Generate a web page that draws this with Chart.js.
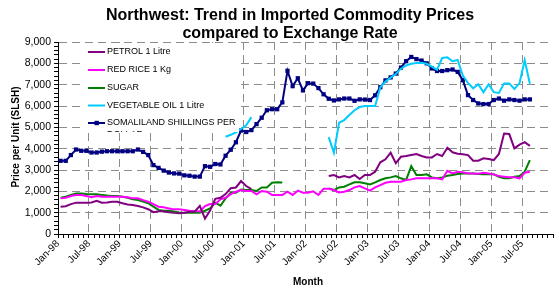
<!DOCTYPE html>
<html>
<head>
<meta charset="utf-8">
<script src="https://cdn.jsdelivr.net/npm/chart.js@4"></script>
<style>
  body { margin: 0; background: #fff; }
  canvas { display: block; }
</style>
</head>
<body>
<canvas id="chart" width="559" height="289"></canvas>
<script>
// months Jan-98 .. Dec-05
const monthNames = ["Jan", "Feb", "Mar", "Apr", "May", "Jun", "Jul", "Aug", "Sep", "Oct", "Nov", "Dec"];
const years = ["98", "99", "00", "01", "02", "03", "04", "05"];
const months = [];
years.forEach(y => monthNames.forEach(m => months.push(m + "-" + y)));

const petrol = [
    1280, 1300, 1400, 1470, 1470, 1470, 1480, 1560, 1465, 1480,
    1515, 1515, 1440, 1380, 1360, 1310, 1250, 1160, 1020, 1070,
    1070, 1020, 990, 970, 1000, 1045, 1045, 1320, 720, 1100,
    1650, 1700, 1870, 2150, 2180, 2480, 2250, 2100, null, null,
    null, null, null, null, null, null, null, null, null, null,
    null, null, 2715, 2765, 2655, 2715, 2655, 2765, 2575, 2765,
    2765, 2920, 3360, 3500, 3810, 3320, 3620, 3655, 3700, 3750,
    3655, 3590, 3590, 3750, 3655, 4040, 3830, 3760, 3740, 3700,
    3435, 3435, 3545, 3520, 3465, 3750, 4710, 4685, 4015, 4190,
    4300, 4130
];

const redRice = [
    1670, 1700, 1780, 1830, 1830, 1780, 1720, 1780, 1750, 1750,
    1750, 1750, 1750, 1720, 1670, 1670, 1590, 1515, 1405, 1280,
    1250, 1200, 1155, 1155, 1125, 1090, 1080, 1060, 1310, 1405,
    1405, 1625, 1700, 1870, 1980, 2060, 2015, 2015, 1860, 2015,
    1980, 1830, 1830, 1830, 1980, 1830, 2030, 1935, 1935, 2000,
    1830, 2120, 2120, 2060, 1950, 1980, 2060, 2185, 2250, 2140,
    2030, 2185, 2295, 2400, 2450, 2450, 2450, 2530, 2560, 2610,
    2610, 2610, 2610, 2610, 2560, 2965, 2840, 2920, 2890, 2840,
    2840, 2820, 2870, 2840, 2795, 2715, 2685, 2655, 2655, 2610,
    2870, 2920
];

const sugar = [
    1700, 1750, 1830, 1900, 1900, 1870, 1860, 1860, 1830, 1800,
    1780, 1780, 1750, 1700, 1630, 1590, 1520, 1440, 1280, 1130,
    1090, 1090, 1050, 1010, 1000, 1000, 1000, 1000, 1090, 1200,
    1465, 1325, 1670, 1935, 1935, 2090, 2060, 2060, 2015, 2185,
    2185, 2400, 2420, 2410, null, null, null, null, null, null,
    null, null, 2140, 2060, 2185, 2215, 2325, 2420, 2420, 2375,
    2325, 2420, 2530, 2610, 2655, 2715, 2610, 2530, 3185, 2765,
    2765, 2795, 2655, 2610, 2655, 2730, 2765, 2810, 2840, 2840,
    2840, 2810, 2795, 2795, 2795, 2685, 2610, 2610, 2685, 2715,
    2920, 3465
];

const vegOil = [
    null, null, null, null, null, null, null, null, null, null,
    null, null, null, null, null, null, null, null, null, null,
    null, null, null, null, null, null, null, null, null, null,
    null, null, 4560, 4650, 4760, 4920, 5100, 5480, null, null,
    null, null, null, null, null, null, null, null, null, null,
    null, null, 4540, 3800, 5215, 5340, 5575, 5800, 5950, 6000,
    6000, 6000, 6880, 7150, 7330, 7500, 7750, 7900, 7980, 8020,
    8030, 7980, 7850, 7700, 8250, 8280, 8100, 8160, 7430, 7080,
    6830, 7020, 6640, 7020, 6650, 6610, 7060, 7060, 6800, 7075,
    8150, 7040
];

const shillingsPerDollar = [
    3430, 3430, 3700, 3960, 3900, 3900, 3820, 3820, 3860, 3880,
    3880, 3880, 3880, 3880, 3880, 3960, 3850, 3700, 3230, 3100,
    2970, 2880, 2840, 2830, 2750, 2730, 2690, 2690, 3180, 3150,
    3280, 3260, 3670, 3950, 4300, 4850, 4780, 4870, 5150, 5450,
    5800, 5850, 5850, 6170, 7650, 6930, 7300, 6730, 7070, 7050,
    6840, 6550, 6340, 6260, 6310, 6350, 6350, 6245, 6310, 6300,
    6280, 6500, 6880, 7200, 7340, 7520, 7800, 8100, 8300, 8200,
    8130, 8000, 7760, 7640, 7640, 7680, 7710, 7600, 7210, 6510,
    6280, 6120, 6090, 6090, 6280, 6350, 6250, 6310, 6280, 6250,
    6310, 6310
];

const FONT = "'Liberation Sans', Arial, sans-serif";
const GRID = "#8c8c8c";

// title, axis titles and the legend box drawn on top
const decorations = {
    id: "decorations",
    afterDraw(chart) {
        const c = chart.ctx;
        c.save();
        c.fillStyle = "#000";

        c.font = "bold 16px " + FONT;
        c.textAlign = "center";
        c.textBaseline = "alphabetic";
        c.fillText("Northwest: Trend in Imported Commodity Prices", 290, 19.5);
        c.fillText("compared to Exchange Rate", 290, 37.5);

        c.font = "bold 10px " + FONT;
        c.textBaseline = "middle";
        c.fillText("Month", 308, 282);
        c.save();
        c.translate(16, 137);
        c.rotate(-Math.PI / 2);
        c.fillText("Price per Unit (SLSH)", 0, 0);
        c.restore();

        // legend
        const box = { x: 83, y: 43, w: 156, h: 89 };
        c.fillStyle = "#fff";
        c.fillRect(box.x, box.y, box.w, box.h);
        c.beginPath();
        c.rect(box.x, box.y, box.w, box.h);
        c.clip();
        c.font = "9px " + FONT;
        c.textAlign = "left";
        const rows = [52, 70, 88, 105.5, 123];
        chart.data.datasets.forEach((ds, i) => {
            const y = rows[i];
            c.strokeStyle = ds.borderColor;
            c.lineWidth = 2;
            c.beginPath();
            c.moveTo(88, y);
            c.lineTo(105, y);
            c.stroke();
            if (ds.pointRadius) {
                c.fillStyle = ds.borderColor;
                c.fillRect(94.5, y - 2.2, 4.4, 4.4);
            }
            c.fillStyle = "#000";
            c.fillText(ds.label, 107, y);
        });
        c.fillText("DOLLAR", 107, 135);
        c.restore();
    }
};

const ctx = document.getElementById("chart").getContext("2d");

new Chart(ctx, {
    type: "line",
    data: {
        labels: months,
        datasets: [
            { label: "PETROL 1 Litre", data: petrol, borderColor: "#800080", pointRadius: 0 },
            { label: "RED RICE 1 Kg", data: redRice, borderColor: "#ff00ff", pointRadius: 0 },
            { label: "SUGAR", data: sugar, borderColor: "#008000", pointRadius: 0 },
            { label: "VEGETABLE OIL 1 Litre", data: vegOil, borderColor: "#00ccff", pointRadius: 0 },
            {
                label: "SOMALILAND SHILLINGS PER",
                data: shillingsPerDollar,
                borderColor: "#000080",
                backgroundColor: "#000080",
                pointStyle: "rect",
                pointRadius: 3,
                pointBorderWidth: 0
            }
        ]
    },
    options: {
        responsive: false,
        animation: false,
        layout: { padding: { top: 42, right: 1, left: 0, bottom: 0 } },
        elements: { line: { tension: 0, borderWidth: 2 } },
        plugins: {
            legend: { display: false },
            title: { display: false },
            tooltip: { enabled: false }
        },
        scales: {
            x: {
                offset: true,
                grid: {
                    offset: true,
                    color: c => (c.index % 6 === 0 && c.index > 0 && c.index < 96) ? GRID : "rgba(0,0,0,0)",
                    tickColor: "#000",
                    tickLength: 4,
                    tickBorderDash: []
                },
                border: { color: "#000", dash: [8, 5] },
                ticks: {
                    autoSkip: false,
                    minRotation: 45,
                    maxRotation: 45,
                    padding: 0,
                    labelOffset: -2.6,
                    color: "#000",
                    font: { family: FONT, size: 10 },
                    callback: (v, i) => i % 6 === 0 ? months[i] : ""
                },
                afterFit: s => { s.height = 55; }
            },
            y: {
                min: 0,
                max: 9000,
                grid: {
                    color: c => (c.tick && c.tick.value % 1000 === 0 && c.tick.value > 0) ? GRID : "rgba(0,0,0,0)",
                    tickColor: "#000",
                    tickLength: 4,
                    tickBorderDash: []
                },
                border: { color: "#000", dash: [8, 5] },
                ticks: {
                    stepSize: 200,
                    autoSkip: false,
                    maxTicksLimit: 100,
                    padding: 3,
                    color: "#000",
                    font: { family: FONT, size: 10.5 },
                    callback: v => v % 1000 === 0 ? v.toLocaleString("en-US") : ""
                },
                afterFit: s => { s.width = 58; }
            }
        }
    },
    plugins: [decorations]
});
</script>
</body>
</html>
